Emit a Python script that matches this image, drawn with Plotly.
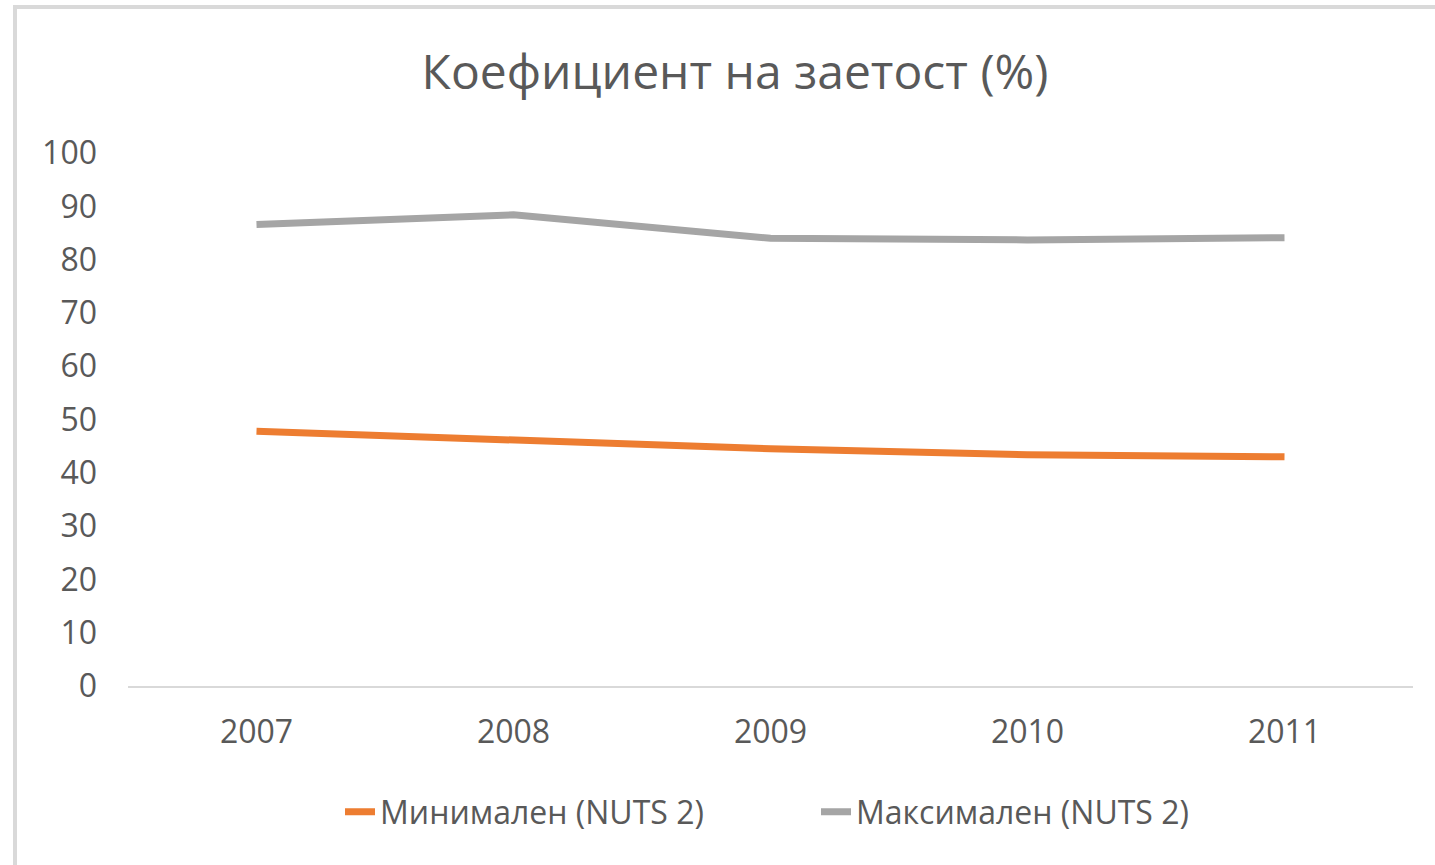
import plotly.graph_objects as go

years = ["2007", "2008", "2009", "2010", "2011"]
min_vals = [47.8, 46.3, 44.5, 43.4, 43.0]
max_vals = [86.6, 88.4, 84.0, 83.7, 84.1]
series_names = ["Минимален (NUTS 2)", "Максимален (NUTS 2)"]
y_ticks = [0, 10, 20, 30, 40, 50, 60, 70, 80, 90, 100]
title_text = "Коефициент на заетост (%)"

W, H = 1435, 865
L, T = 128, 153
R = W - 1413
B = H - 686
FONT = "Open Sans"
TXT = "#595959"

fig = go.Figure()
fig.add_trace(go.Scatter(x=years, y=min_vals, mode="lines", name=series_names[0],
                         line=dict(color="#ED7D31", width=7, shape="linear")))
fig.add_trace(go.Scatter(x=years, y=max_vals, mode="lines", name=series_names[1],
                         line=dict(color="#A5A5A5", width=7, shape="linear")))

pw = W - L - R
ph = H - T - B
bottom_px = H - B
# outer chart frame (extends beyond right/bottom edges)
fig.add_shape(type="rect", xref="paper", yref="paper",
              x0=(15 - L) / pw, x1=(W + 40 - L) / pw,
              y0=(bottom_px - (H + 40)) / ph, y1=(bottom_px - 7) / ph,
              line=dict(color="#D9D9D9", width=4), fillcolor="rgba(0,0,0,0)", layer="below")

fig.update_layout(
    width=W, height=H,
    margin=dict(l=L, r=R, t=T, b=B),
    paper_bgcolor="white", plot_bgcolor="white",
    font=dict(family=FONT, color=TXT, size=32),
    title=dict(text=title_text, x=735 / W, xref="container", xanchor="center",
               y=1 - 72 / H, yref="container", yanchor="middle",
               font=dict(family=FONT, size=48, color=TXT)),
    xaxis=dict(type="category", range=[-0.5, 4.5], showgrid=False, zeroline=False,
               showline=True, linecolor="#D9D9D9", linewidth=1.5, ticks="",
               tickfont=dict(size=32, color=TXT), ticklabelstandoff=17),
    yaxis=dict(range=[0, 100], tickvals=y_ticks, showgrid=False, zeroline=False,
               showline=False, ticks="", tickfont=dict(size=32, color=TXT),
               ticklabelstandoff=30),
    legend=dict(orientation="h", x=(381 - 41) / W, xref="container", xanchor="left",
                y=1 - 812 / H, yref="container", yanchor="middle",
                font=dict(size=32, color=TXT), itemwidth=30, entrywidth=431,
                bgcolor="rgba(0,0,0,0)", tracegroupgap=0),
    showlegend=True,
)

fig.write_html("out.html", config={"displayModeBar": False},
               post_script="document.body.style.margin='0';")
